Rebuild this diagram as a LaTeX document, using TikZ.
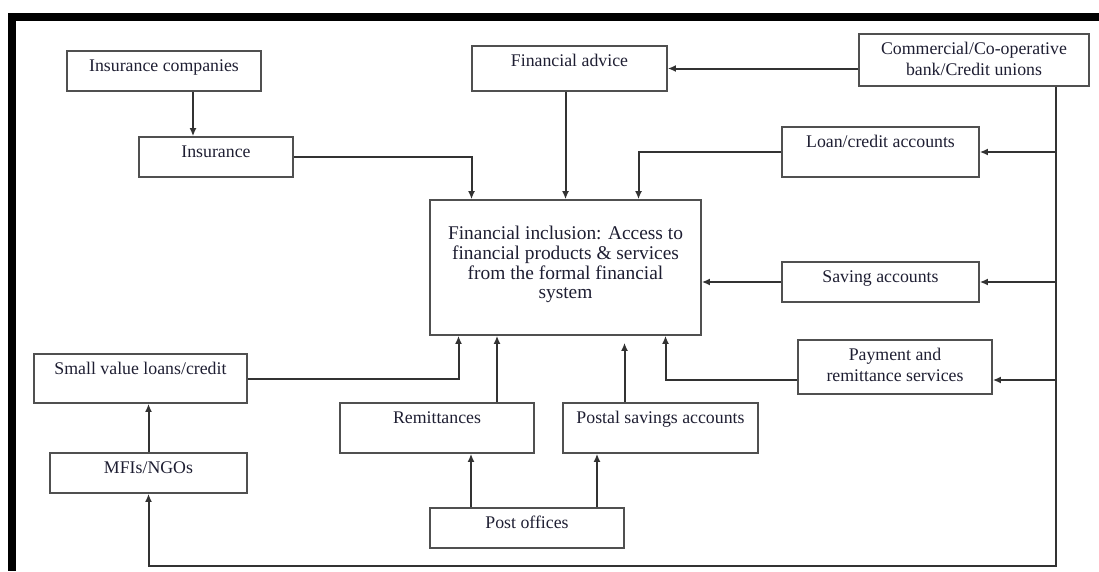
\documentclass[tikz,border=0pt]{standalone}
\usepackage{fontspec}
\setmainfont{Liberation Serif}
\usepackage{tikz}
\usetikzlibrary{arrows.meta,positioning}

\definecolor{boxline}{RGB}{80,80,80}
\definecolor{arrline}{RGB}{50,50,50}
\definecolor{inktext}{RGB}{30,30,50}

\begin{document}
\begin{tikzpicture}[x = 1pt, y = -1pt,
  box/.style = {draw = boxline, line width = 1.7pt, shape = rectangle, inner sep = 0pt},
  boxtext/.style = {anchor = north, yshift = -9pt, inner sep = 0pt, align = center, text = inktext, font = \fontsize{17.8}{21}\selectfont},
  maintext/.style = {anchor = north, yshift = -27pt, inner sep = 0pt, align = center, text = inktext, font = \fontsize{19.4}{19.6}\selectfont},
  arr/.style = {draw = arrline, line width = 2pt, -{Latex[length = 8pt, width = 7pt]}}]
\useasboundingbox (0,0) rectangle (1099,571);
% frame
\fill (8,13) rectangle (1099,21);
\fill (8,13) rectangle (16,571);

% sources and products
\node[box, minimum width = 194pt, minimum height = 40pt, label = {[boxtext]north:Insurance companies}] (inscomp) at (164,71) {};
\node[box, minimum width = 154pt, minimum height = 40pt, label = {[boxtext]north:Insurance}] (ins) at (216,157) {};
\node[box, minimum width = 195pt, minimum height = 45pt, label = {[boxtext]north:Financial advice}] (fadv) at (569.5,68.5) {};
\node[box, minimum width = 230pt, minimum height = 52pt, label = {[boxtext]north:Commercial/Co-operative\\bank/Credit unions}] (bank) at (974,60) {};
\node[box, minimum width = 197pt, minimum height = 50pt, label = {[boxtext]north:Loan/credit accounts}] (loan) at (880.5,152) {};
\node[box, minimum width = 271pt, minimum height = 135pt, label = {[maintext]north:Financial inclusion: Access to\\financial products \& services\\from the formal financial\\system}] (central) at (565.5,267.5) {};
\node[box, minimum width = 197pt, minimum height = 40pt, label = {[boxtext]north:Saving accounts}] (saving) at (880.5,282) {};
\node[box, minimum width = 194pt, minimum height = 54pt, label = {[boxtext]north:Payment and\\remittance services}] (pay) at (895,367) {};
\node[box, minimum width = 213pt, minimum height = 49pt, label = {[boxtext]north:Small value loans/credit}] (small) at (140.5,378.5) {};
\node[box, minimum width = 197pt, minimum height = 40pt, label = {[boxtext]north:MFIs/NGOs}] (mfi) at (148.5,473) {};
\node[box, minimum width = 194pt, minimum height = 50pt, label = {[boxtext]north:Remittances}] (remit) at (437,428) {};
\node[box, minimum width = 195pt, minimum height = 50pt, label = {[boxtext]north:Postal savings accounts}] (postal) at (660.5,428) {};
\node[box, minimum width = 194pt, minimum height = 40pt, label = {[boxtext]north:Post offices}] (post) at (527,528) {};
\coordinate (busend) at (1056,566);

% connectors
\draw[arr] ([xshift = 29pt]inscomp.south) -- ([xshift = 29pt]inscomp.south |- ins.north);
\draw[arr] (ins.east) -| ([xshift = -94pt]central.north);
\draw[arr] (fadv.south -| central.north) -- (central.north);
\draw[arr] (loan.west) -| ([xshift = 73pt]central.north);
\draw[arr] (bank.west |- fadv.east) -- (fadv.east);
\draw[arr] (bank.south -| busend) -- (busend) -- (busend -| mfi.south) -- (mfi.south);
\draw[arr] (busend |- loan.east) -- (loan.east);
\draw[arr] (busend |- saving.east) -- (saving.east);
\draw[arr] (busend |- pay.east) ++(0,13) -- ([yshift = -13pt]pay.east);
\draw[arr] (saving.west) -- (saving.west -| central.east);
\draw[arr] ([yshift = -13pt]pay.west) -| ([xshift = 100pt]central.south);
\draw[arr] (small.east) -| ([xshift = -107pt]central.south);
\draw[arr] (mfi.north) -- (mfi.north |- small.south);
\draw[arr] ([xshift = 60pt]remit.north) -- ([xshift = 60pt]remit.north |- central.south);
\draw[arr] ([xshift = -36pt]postal.north) -- ([xshift = -36pt, yshift = -7pt]postal.north |- central.south);
\draw[arr] ([xshift = -56pt]post.north) -- ([xshift = -56pt]post.north |- remit.south);
\draw[arr] ([xshift = 70pt]post.north) -- ([xshift = 70pt]post.north |- postal.south);
\end{tikzpicture}
\end{document}
